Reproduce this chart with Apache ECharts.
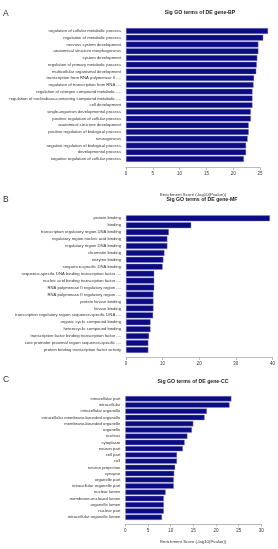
<!DOCTYPE html>
<html>
<head>
<meta charset="utf-8">
<script src="https://cdn.jsdelivr.net/npm/echarts@6.0.0/dist/echarts.min.js"></script>
<style>
  html, body { margin: 0; padding: 0; background: #fff; }
  #main { width: 278px; height: 549px; }
</style>
</head>
<body>
<div id="main"></div>
<script>
// A: biological process
var bpTerms = [
  'regulation of cellular metabolic process',
  'regulation of metabolic process',
  'nervous system development',
  'anatomical structure morphogenesis',
  'system development',
  'regulation of primary metabolic process',
  'multicellular organismal development',
  'transcription from RNA polymerase II ....',
  'regulation of transcription from RNA ....',
  'regulation of nitrogen compound metabolic ....',
  'regulation of nucleobase-containing compound metabolic ....',
  'cell development',
  'single-organism developmental process',
  'positive regulation of cellular process',
  'anatomical structure development',
  'positive regulation of biological process',
  'neurogenesis',
  'negative regulation of biological process',
  'developmental process',
  'negative regulation of cellular process'
]
var bpScores = [26.5, 25.6, 24.7, 24.7, 24.5, 24.4, 24.3, 23.9, 23.8, 23.6,
  23.6, 23.6, 23.3, 23.3, 22.9, 22.9, 22.7, 22.4, 22.4, 22.0]

// B: molecular function
var mfTerms = [
  'protein binding',
  'binding',
  'transcription regulatory region DNA binding',
  'regulatory region nucleic acid binding',
  'regulatory region DNA binding',
  'chromatin binding',
  'enzyme binding',
  'sequence-specific DNA binding',
  'sequence-specific DNA binding transcription factor ....',
  'nucleic acid binding transcription factor ....',
  'RNA polymerase II regulatory region ....',
  'RNA polymerase II regulatory region ....',
  'protein kinase binding',
  'kinase binding',
  'transcription regulatory region sequence-specific DNA ....',
  'organic cyclic compound binding',
  'heterocyclic compound binding',
  'transcription factor binding transcription factor ....',
  'core promoter proximal region sequence-specific ....',
  'protein binding transcription factor activity'
]
var mfScores = [39.3, 17.8, 11.7, 11.3, 11.3, 10.5, 10.2, 10.0, 7.7, 7.7,
  7.7, 7.5, 7.5, 7.5, 7.4, 6.7, 6.7, 6.3, 6.1, 6.1]

// C: cellular component
var ccTerms = [
  'intracellular part',
  'intracellular',
  'intracellular organelle',
  'intracellular membrane-bounded organelle',
  'membrane-bounded organelle',
  'organelle',
  'nucleus',
  'cytoplasm',
  'neuron part',
  'cell part',
  'cell',
  'neuron projection',
  'synapse',
  'organelle part',
  'intracellular organelle part',
  'nuclear lumen',
  'membrane-enclosed lumen',
  'organelle lumen',
  'nuclear part',
  'intracellular organelle lumen'
]
var ccScores = [23.4, 23.0, 18.0, 17.5, 15.0, 14.7, 13.7, 13.1, 12.7, 11.4,
  11.4, 11.0, 10.8, 10.7, 10.7, 8.9, 8.5, 8.5, 8.5, 8.1]

var axisMax = [25, 40, 30]
var axisStep = [5, 10, 5]
var panelTitles = ['Sig GO terms of DE gene-BP', 'Sig GO terms of DE gene-MF', 'Sig GO terms of DE gene-CC']
var panelLetters = ['A', 'B', 'C']
var scoreName = 'Enrichment Score (-log10(Pvalue))'

var font = 'Liberation Sans, Arial, sans-serif'
var barColor = '#0c0c82'

var myChart = echarts.init(document.getElementById('main'))

// grid boxes per panel
var grids = [
  { left: 126, top: 27.6, width: 134, height: 134.8 },
  { left: 126, top: 214.8, width: 151.7, height: 138.6 },
  { left: 125.3, top: 395.6, width: 136, height: 124.8 }
]
var axisOffsets = [5, 4, 3.6]
var nameGaps = [25.5, 0, 16]
var titlePos = [[200, 10], [202, 197.5], [193, 379.5]]
var letterY = [13.3, 200, 380]

function xAxisFor (i) {
  return {
    type: 'value',
    gridIndex: i,
    min: 0,
    max: axisMax[i],
    interval: axisStep[i],
    offset: axisOffsets[i],
    name: i === 1 ? '' : scoreName,
    nameLocation: 'middle',
    nameGap: nameGaps[i],
    nameTextStyle: { fontSize: 4.3, color: '#333', fontFamily: font },
    splitLine: { show: false },
    axisLine: { show: true, lineStyle: { color: '#aaa', width: 0.8 } },
    axisTick: { show: true, length: 2.5, lineStyle: { color: '#aaa', width: 0.8 } },
    axisLabel: { fontSize: 4.5, color: '#333', margin: 4, fontFamily: font, showMaxLabel: true }
  }
}

function yAxisFor (i, terms) {
  return {
    type: 'category',
    gridIndex: i,
    data: terms,
    inverse: true,
    axisLine: { show: false },
    axisTick: { show: false },
    axisLabel: { fontSize: 4.2, color: '#333', margin: 5, fontFamily: font, interval: 0 }
  }
}

function seriesFor (i, scores) {
  return {
    type: 'bar',
    xAxisIndex: i,
    yAxisIndex: i,
    data: scores,
    clip: false,
    barCategoryGap: '14%',
    itemStyle: { color: barColor, borderColor: '#8f8fd0', borderWidth: 0.4 },
    silent: true
  }
}

var option = {
  animation: false,
  backgroundColor: '#fff',
  title: panelTitles.map(function (t, i) {
    return {
      text: t,
      left: titlePos[i][0],
      top: titlePos[i][1],
      textAlign: 'center',
      padding: 0,
      textStyle: { fontSize: 5.2, fontWeight: 'bold', color: '#222', fontFamily: font }
    }
  }),
  graphic: panelLetters.map(function (l, i) {
    return {
      type: 'text',
      left: 3,
      top: letterY[i] - 4.5,
      style: { text: l, fontSize: 8.5, fill: '#333', fontFamily: font }
    }
  }),
  grid: grids,
  xAxis: [xAxisFor(0), xAxisFor(1), xAxisFor(2)],
  yAxis: [yAxisFor(0, bpTerms), yAxisFor(1, mfTerms), yAxisFor(2, ccTerms)],
  series: [seriesFor(0, bpScores), seriesFor(1, mfScores), seriesFor(2, ccScores)]
}

myChart.setOption(option)
</script>
</body>
</html>
